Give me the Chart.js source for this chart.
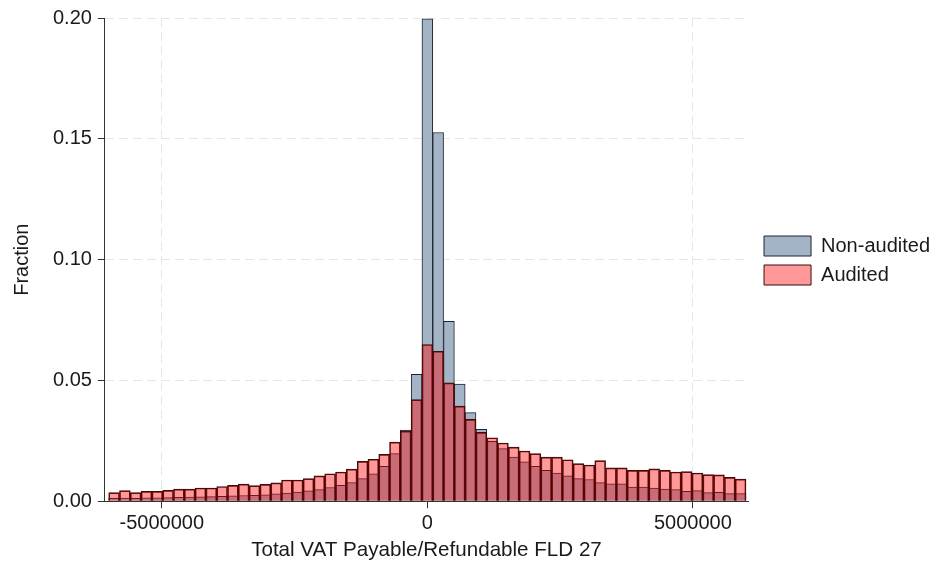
<!DOCTYPE html>
<html>
<head>
<meta charset="utf-8">
<script src="https://cdn.jsdelivr.net/npm/chart.js@4.4.1/dist/chart.umd.min.js"></script>
<style>
  html, body { margin: 0; padding: 0; background: #fff; }
</style>
</head>
<body>
<canvas id="chart" width="937" height="564"></canvas>
<script>
// histogram bins: 59 equal-width bins over [-6,000,000, 6,000,000]
const binStart = -6000000;
const binEnd = 6000000;
const binCount = 59;

// fraction per bin, left to right
const nonAudited = [
  0.0012, 0.0013, 0.0012, 0.0014, 0.0014, 0.0015, 0.0016, 0.0017, 0.0018, 0.0019,
  0.0021, 0.0023, 0.0024, 0.0025, 0.0027, 0.0031, 0.0034, 0.0038, 0.0043, 0.0048,
  0.0057, 0.0066, 0.0077, 0.0094, 0.0114, 0.0145, 0.0197, 0.0295, 0.0525, 0.1997,
  0.1526, 0.0745, 0.0485, 0.0367, 0.0298, 0.0248, 0.0218, 0.0183, 0.0163, 0.0145,
  0.0128, 0.0117, 0.0105, 0.0094, 0.0090, 0.0077, 0.0072, 0.0072, 0.0059, 0.0059,
  0.0055, 0.0050, 0.0048, 0.0041, 0.0044, 0.0036, 0.0037, 0.0032, 0.0032
];
const audited = [
  0.0036, 0.0044, 0.0036, 0.0041, 0.0041, 0.0045, 0.0050, 0.0050, 0.0055, 0.0055,
  0.0061, 0.0066, 0.0071, 0.0065, 0.0070, 0.0076, 0.0088, 0.0088, 0.0094, 0.0105,
  0.0114, 0.0121, 0.0133, 0.0165, 0.0174, 0.0194, 0.0245, 0.0290, 0.0421, 0.0649,
  0.0621, 0.0490, 0.0394, 0.0339, 0.0285, 0.0263, 0.0241, 0.0224, 0.0208, 0.0197,
  0.0183, 0.0183, 0.0172, 0.0156, 0.0150, 0.0168, 0.0138, 0.0138, 0.0128, 0.0128,
  0.0134, 0.0128, 0.0121, 0.0123, 0.0117, 0.0110, 0.0109, 0.0099, 0.0092
];

const xTicks = [-5000000, 0, 5000000];
const yTicks = [0, 0.05, 0.10, 0.15, 0.20];

const binWidth = (binEnd - binStart) / binCount;
const binCenters = nonAudited.map((_, i) => binStart + (i + 0.5) * binWidth);

Chart.defaults.font.family = '"Liberation Sans", Arial, Helvetica, sans-serif';
Chart.defaults.font.size = 20;
Chart.defaults.color = '#1a1a1a';

const toPoints = arr => arr.map((v, i) => ({ x: binCenters[i], y: v }));

// move the legend up to the middle of the plot and a bit right
const legendShift = {
  id: 'legendShift',
  afterLayout(chart) {
    const lg = chart.legend;
    lg.top -= 24; lg.bottom -= 24;
    lg.left += 7; lg.right += 7;
  }
};

const chart = new Chart(document.getElementById('chart'), {
  type: 'bar',
  data: {
    datasets: [
      {
        label: 'Non-audited',
        data: toPoints(nonAudited),
        backgroundColor: '#a4b4c7',
        borderColor: '#1c2430',
        borderWidth: 1,
        order: 1
      },
      {
        label: 'Audited',
        data: toPoints(audited),
        backgroundColor: 'rgba(255, 0, 0, 0.4)',
        borderColor: '#3a0c0c',
        borderWidth: 1,
        order: 0
      }
    ]
  },
  options: {
    responsive: false,
    animation: false,
    grouped: false,
    barPercentage: 1,
    categoryPercentage: 1,
    layout: { padding: { top: 5, right: 4, bottom: 0, left: 0 } },
    plugins: {
      tooltip: { enabled: false },
      legend: {
        position: 'right',
        labels: {
          boxWidth: 47,
          boxHeight: 20,
          padding: 9,
          sort: (a, b) => a.datasetIndex - b.datasetIndex
        }
      }
    },
    scales: {
      x: {
        type: 'linear',
        offset: false,
        min: -6071000,
        max: 6038000,
        afterBuildTicks: axis => { axis.ticks = xTicks.map(v => ({ value: v })); },
        ticks: { callback: v => String(v), padding: 3, maxRotation: 0 },
        grid: { offset: false, color: '#e6e6e6', tickColor: '#333', tickLength: 7 },
        border: { color: '#333', width: 1, dash: [9, 5] },
        title: {
          display: true,
          text: 'Total VAT Payable/Refundable FLD 27',
          font: { size: 20.6 },
          padding: { top: 0, bottom: 1 }
        }
      },
      y: {
        min: 0,
        max: 0.2,
        afterBuildTicks: axis => { axis.ticks = yTicks.map(v => ({ value: v })); },
        ticks: { callback: v => v.toFixed(2), padding: 6 },
        grid: {
          color: ctx => (ctx.tick && ctx.tick.value === 0 ? 'rgba(0,0,0,0)' : '#e6e6e6'),
          tickColor: '#333',
          tickLength: 7
        },
        border: { color: '#333', width: 1, dash: [9, 5] },
        title: { display: true, text: 'Fraction', padding: { top: 10, bottom: 13 } }
      }
    }
  },
  plugins: [legendShift]
});
</script>
</body>
</html>
